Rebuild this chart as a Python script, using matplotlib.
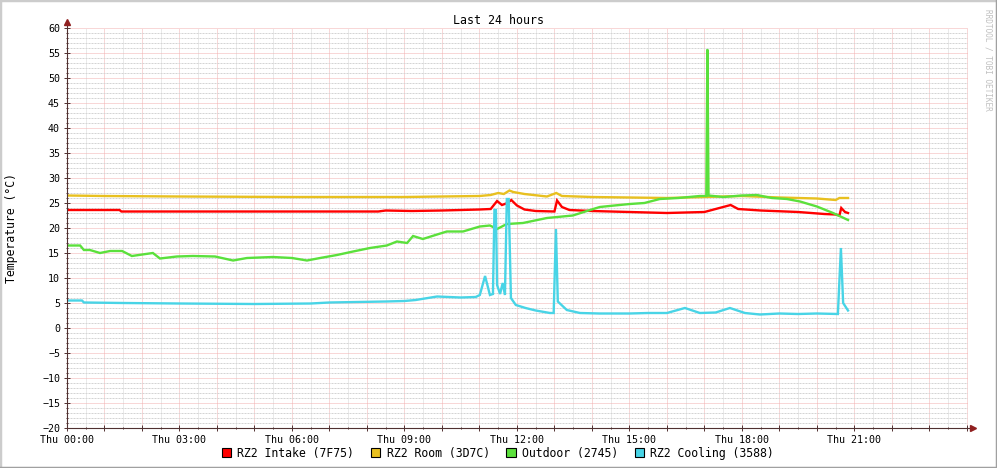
import matplotlib
matplotlib.use("Agg")
import matplotlib.pyplot as plt
from matplotlib.patches import Patch
from matplotlib.lines import Line2D
from matplotlib.ticker import FixedLocator, MultipleLocator

plt.rcParams['font.family'] = ['DejaVu Sans Mono']

# hours since Thu 00:00
intake_t = [0, 1.4, 1.45, 4.5, 8.3, 8.5, 9.2, 10.0, 11.0, 11.3, 11.47, 11.6, 11.75, 11.85,
            12.0, 12.2, 12.5, 13.0, 13.07, 13.2, 13.4, 14.0, 15.0, 16.0, 17.0, 17.4, 17.7,
            17.9, 18.5, 19.5, 20.2, 20.5, 20.6, 20.65, 20.75, 20.83]
intake_v = [23.6, 23.6, 23.3, 23.3, 23.3, 23.5, 23.4, 23.5, 23.7, 23.8, 25.4, 24.6, 25.0, 25.6,
            24.5, 23.7, 23.4, 23.3, 25.5, 24.2, 23.6, 23.4, 23.2, 23.0, 23.2, 24.0, 24.6,
            23.8, 23.5, 23.2, 22.8, 22.7, 22.5, 24.0, 23.2, 23.0]

room_t = [0, 1.0, 3.0, 6.0, 9.0, 10.0, 11.0, 11.3, 11.5, 11.65, 11.8, 11.9, 12.2, 12.8,
          13.05, 13.2, 14.0, 16.0, 17.0, 18.0, 19.0, 20.0, 20.5, 20.6, 20.83]
room_v = [26.5, 26.4, 26.3, 26.2, 26.2, 26.3, 26.4, 26.6, 27.0, 26.8, 27.5, 27.2, 26.8, 26.3,
          27.0, 26.4, 26.2, 26.0, 26.2, 26.4, 26.1, 25.9, 25.6, 26.0, 26.0]

outdoor_t = [0, 0.35, 0.45, 0.61, 0.88, 1.15, 1.47, 1.73, 2.29, 2.48, 2.93, 3.36, 3.95, 4.43,
             4.8, 5.49, 6.0, 6.4, 6.75, 7.2, 7.63, 8.08, 8.53, 8.8, 9.07, 9.23, 9.49, 9.87,
             10.13, 10.56, 11.01, 11.28, 11.47, 11.73, 12.16, 12.8, 13.49, 13.95, 14.21, 14.6,
             15.01, 15.4, 15.81, 16.3, 16.88, 17.05, 17.08, 17.11, 17.5, 18.0, 18.4, 18.8,
             19.2, 19.55, 20.0, 20.43, 20.83]
outdoor_v = [16.5, 16.5, 15.6, 15.6, 15.0, 15.4, 15.4, 14.4, 15.0, 13.9, 14.3, 14.4, 14.3, 13.5,
             14.0, 14.2, 14.0, 13.5, 14.0, 14.6, 15.3, 16.0, 16.5, 17.3, 17.0, 18.4, 17.8, 18.7,
             19.3, 19.3, 20.3, 20.5, 19.8, 20.8, 21.0, 22.0, 22.5, 23.6, 24.2, 24.5,
             24.8, 25.0, 25.8, 26.0, 26.4, 26.4, 55.7, 26.5, 26.2, 26.5, 26.6, 26.0,
             25.8, 25.3, 24.3, 23.0, 21.6]

cooling_t = [0, 0.4, 0.45, 1.5, 3.0, 5.0, 6.5, 7.0, 8.5, 9.0, 9.3, 9.87, 10.5, 10.9, 11.01,
             11.15, 11.28, 11.36, 11.4, 11.44, 11.47, 11.55, 11.62, 11.68, 11.73, 11.78, 11.84,
             11.97, 12.23, 12.5, 12.88, 12.98, 13.04, 13.09, 13.33, 13.68, 14.2, 15.0, 15.5,
             16.0, 16.48, 16.88, 17.3, 17.68, 18.08, 18.48, 19.0, 19.5, 20.0, 20.56, 20.64,
             20.7, 20.83]
cooling_v = [5.5, 5.5, 5.1, 5.0, 4.9, 4.8, 4.9, 5.1, 5.3, 5.4, 5.6, 6.3, 6.1, 6.2, 6.6,
             10.4, 6.6, 6.8, 23.6, 23.6, 8.6, 6.8, 9.0, 6.6, 25.8, 25.8, 6.0,
             4.6, 4.0, 3.5, 3.0, 3.0, 19.8, 5.3, 3.6, 3.0, 2.9, 2.9, 3.0,
             3.0, 4.0, 3.0, 3.1, 4.0, 3.0, 2.7, 2.9, 2.8, 2.9, 2.8, 16.0,
             5.0, 3.5]

series = [
    ("RZ2 Intake (7F75)", intake_t, intake_v, "#ff0000"),
    ("RZ2 Room (3D7C)", room_t, room_v, "#e8c020"),
    ("Outdoor (2745)", outdoor_t, outdoor_v, "#5be03c"),
    ("RZ2 Cooling (3588)", cooling_t, cooling_v, "#48d4e6"),
]

hour_labels = ["Thu 00:00", "Thu 03:00", "Thu 06:00", "Thu 09:00",
               "Thu 12:00", "Thu 15:00", "Thu 18:00", "Thu 21:00"]

fig = plt.figure(figsize=(9.97, 4.68), dpi=100)
ax = fig.add_axes([67 / 997, 40 / 468, 901 / 997, 400 / 468])

for name, t, v, color in series:
    ax.plot(t, v, color=color, lw=1.7, solid_joinstyle='miter')

ax.set_xlim(0, 24.03)
ax.set_ylim(-20, 60)

ax.yaxis.set_major_locator(MultipleLocator(5))
ax.yaxis.set_minor_locator(MultipleLocator(1))
ax.xaxis.set_major_locator(FixedLocator(list(range(0, 25))))
ax.xaxis.set_minor_locator(MultipleLocator(0.5))
ax.set_xticklabels([hour_labels[h // 3] if h % 3 == 0 and h // 3 < len(hour_labels) else ""
                    for h in range(0, 25)])

ax.set_axisbelow(True)
ax.grid(which='minor', axis='y', color='#d4d4d4', linestyle=(0, (2, 1)), lw=0.72)
ax.grid(which='minor', axis='x', color='#d4d4d4', linestyle=(0, (1, 1)), lw=0.72)
ax.grid(which='major', color='#f2b0b0', linestyle=(0, (1, 1)), lw=0.72)

for s in ax.spines.values():
    s.set_visible(False)
ax.tick_params(which='major', direction='inout', length=4, width=0.7, color='#503030',
               labelsize=7.2, pad=3)
ax.tick_params(which='minor', direction='inout', length=2, width=0.7, color='#503030')

# axes with arrows
ax.plot([0, 0], [0, 1.012], transform=ax.transAxes, color='#503030', lw=0.8, clip_on=False)
ax.plot([0, 1.006], [0, 0], transform=ax.transAxes, color='#503030', lw=0.8, clip_on=False)
ax.plot([0], [1.015], transform=ax.transAxes, marker='^', ms=4, color='#902020', clip_on=False)
ax.plot([1.006], [0], transform=ax.transAxes, marker='>', ms=4, color='#902020', clip_on=False)

fig.text(0.5, 1 - 20 / 468, "Last 24 hours", ha='center', va='center', fontsize=8.4)
fig.text(11 / 997, 1 - 228 / 468, "Temperature (°C)", rotation=90, ha='center',
         va='center', fontsize=8.3)
fig.text(988 / 997, 1 - 60 / 468, "RRDTOOL / TOBI OETIKER", rotation=270, ha='center',
         va='center', fontsize=5.6, color='#c0c0c0')

handles = [Patch(facecolor=c, edgecolor='black', lw=0.8) for _, _, _, c in series]
fig.legend(handles, [n for n, _, _, _ in series], loc='center',
           bbox_to_anchor=(498 / 997, 1 - 453 / 468), ncol=4, frameon=False,
           fontsize=8.3, handlelength=0.8, handleheight=0.8, handletextpad=0.55,
           columnspacing=1.45, borderpad=0)

# frame around image
fig.add_artist(Line2D([0, 0, 1], [0, 1, 1], transform=fig.transFigure, color='#cccccc', lw=2.5))
fig.add_artist(Line2D([0, 1, 1], [0, 0, 1], transform=fig.transFigure, color='#a0a0a0', lw=2.5))

fig.savefig("out.png", dpi=100)
